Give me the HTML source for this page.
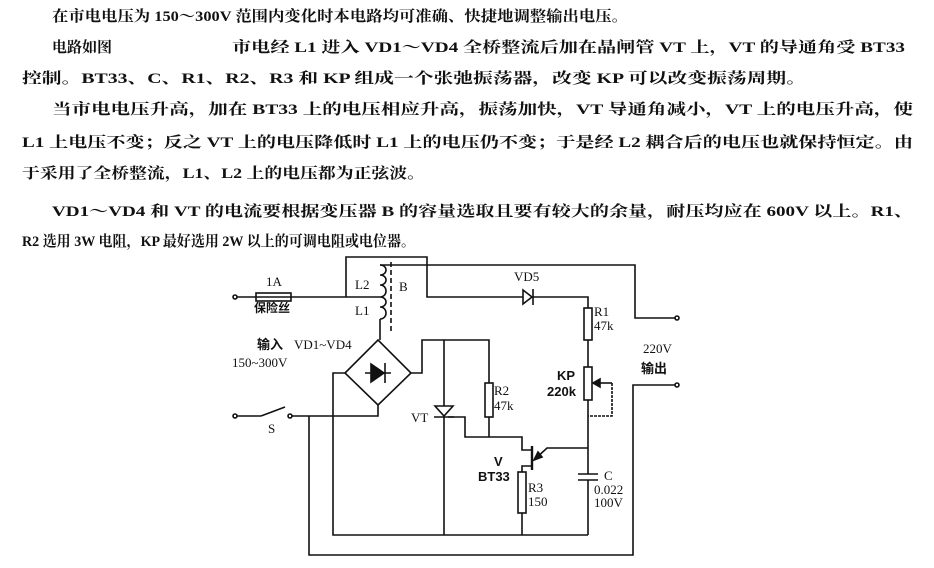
<!DOCTYPE html>
<html><head><meta charset="utf-8"><style>
html,body{margin:0;padding:0;background:#fff;width:934px;height:568px;overflow:hidden}
svg{display:block}
.t{font-family:"Liberation Serif","Noto Serif CJK SC",serif;font-size:15px;font-weight:bold;fill:#111}
.l{font-family:"Liberation Serif","Noto Serif CJK SC",serif;font-size:13px;fill:#111}
.b{font-family:"Liberation Sans","Noto Sans CJK SC",sans-serif;font-size:13px;font-weight:bold;fill:#111}
</style></head><body>
<svg width="934" height="568" viewBox="0 0 934 568" xmlns="http://www.w3.org/2000/svg">
<g class="t">
<text x="52" y="21" textLength="576" lengthAdjust="spacingAndGlyphs">在市电电压为 150～300V 范围内变化时本电路均可准确、快捷地调整输出电压。</text>
<text x="52" y="52" textLength="60" lengthAdjust="spacingAndGlyphs">电路如图</text>
<text x="232" y="52" textLength="673" lengthAdjust="spacingAndGlyphs">市电经 L1 进入 VD1～VD4 全桥整流后加在晶闸管 VT 上，VT 的导通角受 BT33</text>
<text x="22" y="83" textLength="784" lengthAdjust="spacingAndGlyphs">控制。BT33、C、R1、R2、R3 和 KP 组成一个张弛振荡器，改变 KP 可以改变振荡周期。</text>
<text x="52" y="114" textLength="861" lengthAdjust="spacingAndGlyphs">当市电电压升高，加在 BT33 上的电压相应升高，振荡加快，VT 导通角减小，VT 上的电压升高，使</text>
<text x="22" y="147" textLength="891" lengthAdjust="spacingAndGlyphs">L1 上电压不变；反之 VT 上的电压降低时 L1 上的电压仍不变；于是经 L2 耦合后的电压也就保持恒定。由</text>
<text x="22" y="178" textLength="403" lengthAdjust="spacingAndGlyphs">于采用了全桥整流，L1、L2 上的电压都为正弦波。</text>
<text x="52" y="216" textLength="861" lengthAdjust="spacingAndGlyphs">VD1～VD4 和 VT 的电流要根据变压器 B 的容量选取且要有较大的余量，耐压均应在 600V 以上。R1、</text>
<text x="22" y="246" textLength="393" lengthAdjust="spacingAndGlyphs">R2 选用 3W 电阻，KP 最好选用 2W 以上的可调电阻或电位器。</text>
</g>
<g stroke="#111" stroke-width="1.6" fill="none">
<!-- input line -->
<circle cx="235" cy="297" r="2" fill="#fff"/>
<line x1="237" y1="297" x2="256" y2="297"/>
<rect x="256" y="293" width="35" height="8"/>
<line x1="256" y1="297" x2="291" y2="297"/>
<line x1="291" y1="297" x2="380" y2="297"/>
<!-- loop top -->
<polyline points="346,297 346,257 427,257 427,297 588,297 588,308"/>
<!-- coils -->
<path d="M380,265 c8,0 8,10 0,10 c8,0 8,10 0,10 c8,0 8,12 0,12 c8,0 8,10 0,10 c8,0 8,12 0,12"/>
<line x1="380" y1="319" x2="380" y2="340"/>
<line x1="391" y1="262" x2="391" y2="333" stroke-dasharray="5,3"/>
<polyline points="380,265 635,265 635,318 675,318"/>
<circle cx="677" cy="318" r="2" fill="#fff"/>
<!-- bridge -->
<polygon points="378,340 411,373 378,405 345,373"/>
<line x1="365" y1="373" x2="391" y2="373"/>
<polygon points="371,364 371,382 384,373" fill="#111"/>
<line x1="385" y1="363" x2="385" y2="383"/>
<polyline points="411,373 422,373 422,340 489,340 489,383"/>
<polyline points="345,373 333,373 333,535 588,535"/>
<!-- switch -->
<circle cx="235" cy="416" r="2" fill="#fff"/>
<line x1="237" y1="416" x2="261" y2="416"/>
<line x1="261" y1="416" x2="285" y2="407"/>
<circle cx="290" cy="416" r="2" fill="#fff"/>
<polyline points="292,416 378,416 378,405"/>
<polyline points="309,416 309,555 633,555 633,385 675,385"/>
<circle cx="677" cy="385" r="2" fill="#fff"/>
<!-- VT -->
<line x1="444" y1="340" x2="444" y2="535"/>
<polygon points="435,406 453,406 444,416" fill="#fff"/>
<line x1="434" y1="417" x2="454" y2="417"/>
<polyline points="448,417 465,417 465,437 522,437 522,450 532,450"/>
<!-- R2 -->
<rect x="485" y="383" width="8" height="34" fill="#fff"/>
<line x1="489" y1="417" x2="489" y2="437"/>
<!-- UJT -->
<line x1="532" y1="446" x2="532" y2="470" stroke-width="2.4"/>
<polyline points="532,466 522,466 522,472"/>
<polyline points="534,460 547,448 588,448"/>
<polygon points="534,460 538,452 542,457" fill="#111"/>
<rect x="518" y="472" width="8" height="41" fill="#fff"/>
<line x1="522" y1="513" x2="522" y2="535"/>
<!-- R1 KP C -->
<rect x="584" y="308" width="8" height="32" fill="#fff"/>
<line x1="588" y1="340" x2="588" y2="367"/>
<rect x="584" y="367" width="8" height="33" fill="#fff"/>
<polyline points="612,383 612,416 588,416" stroke-dasharray="3,1"/>
<line x1="612" y1="383" x2="596" y2="383"/>
<polygon points="593,383 600,379 600,387" fill="#111"/>
<line x1="588" y1="400" x2="588" y2="474"/>
<line x1="578" y1="474" x2="598" y2="474"/>
<line x1="578" y1="480" x2="598" y2="480"/>
<line x1="588" y1="480" x2="588" y2="535"/>
<!-- VD5 -->
<polygon points="523,290 523,304 532,297" fill="#fff"/>
<line x1="533" y1="289" x2="533" y2="305"/>
</g>
<g class="l">
<text x="266" y="286">1A</text>
<text x="355" y="289">L2</text>
<text x="355" y="315">L1</text>
<text x="399" y="291">B</text>
<text x="294" y="349">VD1~VD4</text>
<text x="232" y="367">150~300V</text>
<text x="268" y="433">S</text>
<text x="411" y="422">VT</text>
<text x="514" y="281">VD5</text>
<text x="594" y="316">R1</text>
<text x="594" y="330">47k</text>
<text x="494" y="395">R2</text>
<text x="494" y="410">47k</text>
<text x="528" y="492">R3</text>
<text x="528" y="506">150</text>
<text x="604" y="480">C</text>
<text x="594" y="494">0.022</text>
<text x="594" y="507">100V</text>
<text x="643" y="353">220V</text>
</g>
<g class="b">
<text x="254" y="312" font-size="12">保险丝</text>
<text x="257" y="349">输入</text>
<text x="557" y="380">KP</text>
<text x="547" y="396">220k</text>
<text x="494" y="466">V</text>
<text x="478" y="481">BT33</text>
<text x="641" y="373">输出</text>
</g>
</svg>
</body></html>
